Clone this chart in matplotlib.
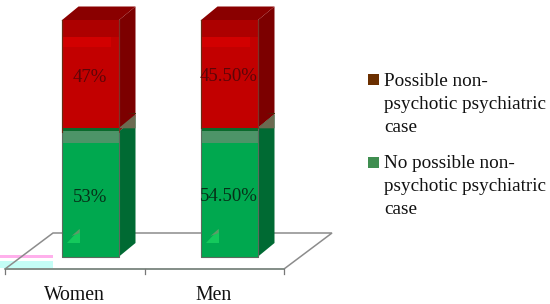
import matplotlib
matplotlib.use("Agg")
import matplotlib.pyplot as plt
from matplotlib.patches import Polygon, Rectangle

categories = ["Women", "Men"]
no_case = [53, 54.5]
possible_case = [47, 45.5]
no_labels = ["53%", "54.50%"]
possible_labels = ["47%", "45.50%"]
legend_labels = ["Possible non-\npsychotic psychiatric\ncase", "No possible non-\npsychotic psychiatric\ncase"]

W, H = 550, 304
X0, STEP = 90.0, 139.0          # pixel position of the first category, pixels per category
Y0, YSCALE = 257.0, 2.365       # pixel row of 0 %, pixels per percent
PX = 1 / STEP
PY = 1 / YSCALE
DX, DY = 17 * PX, 14 * PY       # 3-D depth
BAR = 57 * PX

plt.rcParams["font.family"] = ["Liberation Serif", "DejaVu Serif"]
fig = plt.figure(figsize=(W / 100, H / 100), dpi=100)
ax = fig.add_axes([0, 0, 1, 1])
ax.set_xlim(-X0 / STEP, (W - X0) / STEP)
ax.set_ylim((Y0 - H) / YSCALE, Y0 / YSCALE)
ax.axis("off")

pos = list(range(len(categories)))
GREEN, RED = "#00a84f", "#c20000"
SIDE_G, SIDE_R = "#006a33", "#7c0000"
TOP_R = "#8a0000"

def poly(pts, color, z=3, **kw):
    ax.add_patch(Polygon(pts, closed=True, facecolor=color, edgecolor="none", zorder=z, **kw))

# floor
floor_l = -0.5 - 15.5 * PX
floor_r = floor_l + len(categories) * 139.5 * PX
fy = -12 * PY
back = 36 * PY
ax.add_patch(Polygon([(floor_l, fy), (floor_r, fy), (floor_r + 48 * PX, fy + back), (floor_l + 48 * PX, fy + back)],
                     closed=True, facecolor="none", edgecolor="#8c8c8c", linewidth=1.1, zorder=1))
ax.plot([floor_l, floor_r], [fy, fy], color="#7d8a82", lw=1.1, zorder=1)
for i in range(len(categories) + 1):
    t = floor_l + i * 139.5 * PX
    ax.plot([t, t], [fy, fy - 5 * PY], color="#777777", lw=0.9, zorder=1)

# pale fringe next to the floor
ax.add_patch(Rectangle((floor_l - 5 * PX, fy + 11 * PY), 53 * PX, 3 * PY, facecolor="#ffb0ec", edgecolor="none", zorder=0))
ax.add_patch(Rectangle((floor_l - 5 * PX, fy + 1 * PY), 53 * PX, 7 * PY, facecolor="#c4fdf6", edgecolor="none", zorder=0))

# bars
ax.bar(pos, no_case, width=BAR, color=GREEN, zorder=4)
ax.bar(pos, possible_case, width=BAR, bottom=no_case, color=RED, zorder=4)

for i, (a, b) in enumerate(zip(no_case, possible_case)):
    l, r = i - BAR / 2, i + BAR / 2
    top = a + b
    # side faces and top
    poly([(r, 0), (r + DX, DY), (r + DX, a + DY), (r, a)], SIDE_G)
    poly([(r, a), (r + DX, a + DY), (r + DX, top + DY), (r, top)], SIDE_R)
    poly([(l, top), (r, top), (r + DX, top + DY), (l + DX, top + DY)], TOP_R)
    # darker and brighter bands on the red front
    poly([(l, top), (r, top), (r, top - 16 * PY), (l, top - 16 * PY)], "#ad0000", z=5)
    poly([(l, top - 16 * PY), (r - 8 * PX, top - 16 * PY), (r - 8 * PX, top - 27 * PY), (l, top - 27 * PY)], "#d20000", z=5)
    # muted band under the split
    split = 128.3
    s = (Y0 - split) / YSCALE
    poly([(l, s), (r, s), (r, s - 15 * PY), (l, s - 15 * PY)], "#4d9468", z=5)
    poly([(l, s), (r, s), (r, s - 3 * PY), (l, s - 3 * PY)], "#0a6a2c", z=6)
    # olive corner on the side face
    poly([(r, s), (r + DX, s + DY), (r + DX, s)], "#6c6a50", z=5)
    poly([(r + 8 * PX, s + DY), (r + DX, s + DY), (r + DX, s + 2 * DY * 0.55)], "#40300a", z=5)
    # small floor wedge seen through the bar
    px = l + 5 * PX
    poly([(px, 14 * PY), (px + 13 * PX, 14 * PY), (px + 13 * PX, 28 * PY)], "#14c95c", z=5)
    poly([(px + 5 * PX, 21 * PY), (px + 13 * PX, 28 * PY), (px + 13 * PX, 24 * PY)], "#5f9a68", z=6)
    # outline
    ax.plot([l, l, r, r], [top, 0, 0, top], color="#5b6b5d", lw=0.8, zorder=6)
    ax.plot([l, l], [a, top], color="#6a2a10", lw=0.8, zorder=6)
    ax.plot([r, r], [a, top], color="#8b1a10", lw=0.5, zorder=6)

    ax.text(i, a / 2 - 1.5, no_labels[i], ha="center", va="center", fontsize=13.5, color="#063018", zorder=7)
    ax.text(i, a + b / 2 - 0.8, possible_labels[i], ha="center", va="center", fontsize=13.5, color="#5c0508", zorder=7)

# category labels
for i, c in enumerate(categories):
    ax.text(i - 15.5 * PX, (Y0 - 295.5) / YSCALE, c,
            ha="center", va="center", fontsize=14.2, color="#111111")

# legend
for (ty, tt, sw, lab) in [(79.5, 81.5, "#6b2f00", legend_labels[0]), (162.5, 164, "#3f8e50", legend_labels[1])]:
    fig.patches.append(Rectangle((368 / W, 1 - (ty + 5.5) / H), 10.5 / W, 11 / H, transform=fig.transFigure,
                                 facecolor=sw, edgecolor="none"))
    fig.text(384 / W, 1 - (tt - 9) / H, lab, ha="left", va="top", fontsize=13.8, color="#111111", linespacing=1.48)

fig.savefig("out.png", dpi=100)
